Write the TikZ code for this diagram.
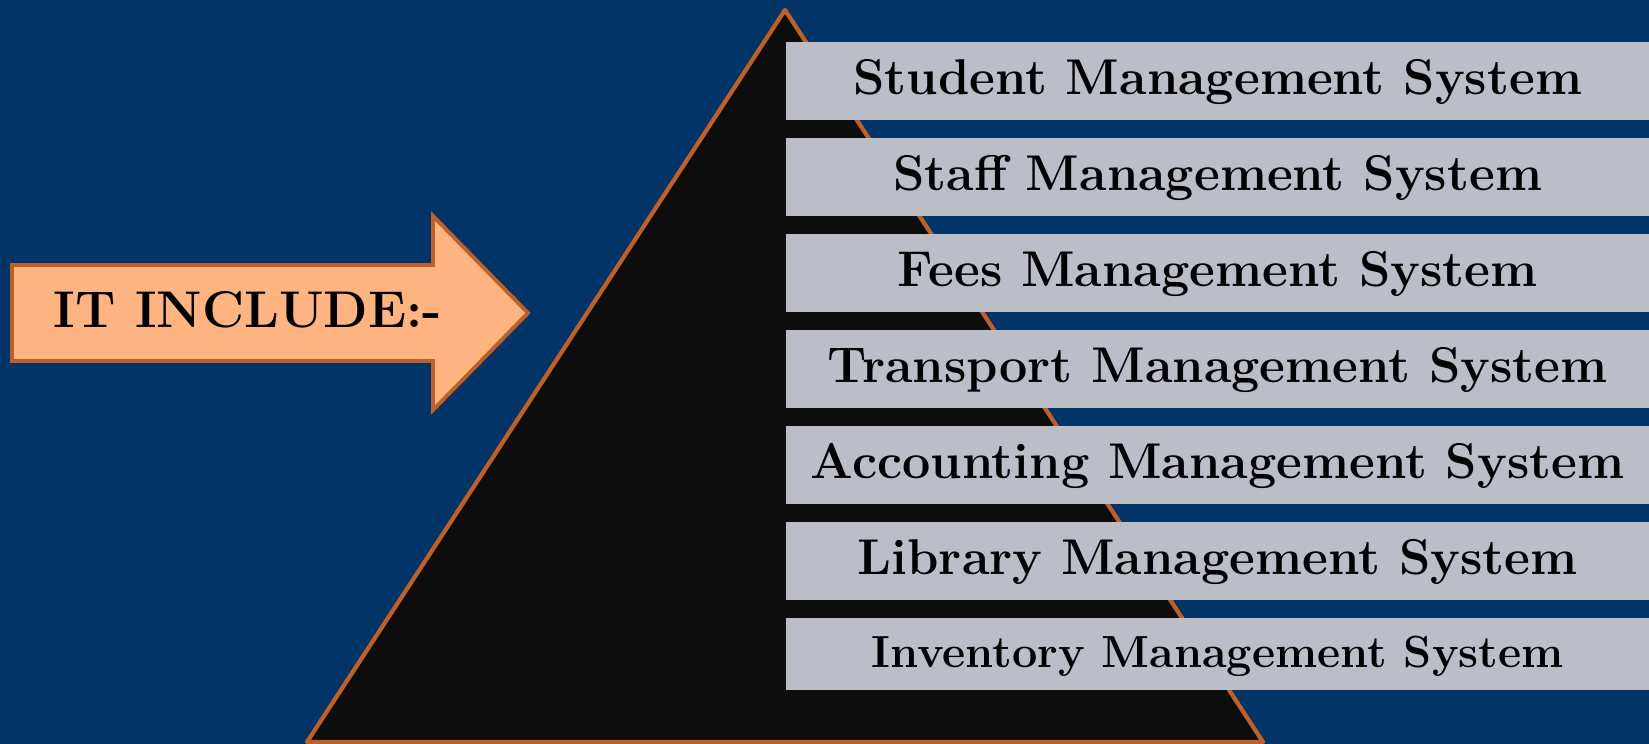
\documentclass[tikz,border=0pt]{standalone}
\usepackage{fontspec}
\usepackage{tikz}
\definecolor{navy}{RGB}{0,51,102}
\definecolor{rust}{RGB}{190,96,40}
\definecolor{peach}{RGB}{255,180,130}
\definecolor{barfill}{RGB}{187,190,199}
\definecolor{pyramid}{RGB}{13,13,13}

\begin{document}
\begin{tikzpicture}[x=0.1mm,y=-0.1mm,
    bar/.style={fill=barfill,anchor=north west,minimum width=86.4mm,inner sep=0pt,
      font=\fontsize{14.3}{16}\selectfont\bfseries,text height=1.8ex,text depth=0pt}]
    \useasboundingbox (0,0) rectangle (1649,744);
    \fill[navy] (0,0) rectangle (1649,744);
    \draw[rust,fill=pyramid,line width=1.2pt,line join=round] (785,10) -- (1263,742) -- (307,742) -- cycle;
    \draw[rust,fill=peach,line width=1.1pt] (12,265) -- (433,265) -- (433,216) -- (528,313) -- (433,410) -- (433,361) -- (12,361) -- cycle;
    \node[font=\fontsize{14.7}{17}\selectfont\bfseries,text height=1.55ex,text depth=0pt] (include) at (248,316) {IT INCLUDE:-};
    \foreach \txt/\barh/\fs [count=\i] in {Student Management System/7.8/14.3,Staff Management System/7.8/14.3,
        Fees Management System/7.8/14.3,Transport Management System/7.8/14.3,Accounting Management System/7.8/14.3,
        Library Management System/7.8/14.3,Inventory Management System/7.2/12.8}
      \node[bar,minimum height=\barh mm,font=\fontsize{\fs}{16}\selectfont\bfseries] (bar\i) at (785,{41+96*(\i-1)}) {\txt};
\end{tikzpicture}
\end{document}
